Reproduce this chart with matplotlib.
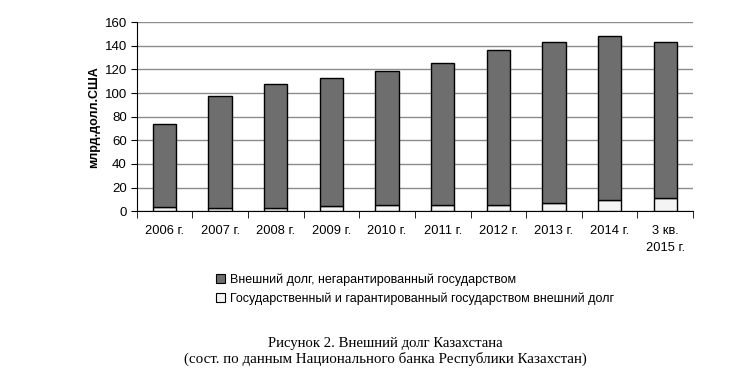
import matplotlib
matplotlib.use("Agg")
import matplotlib.pyplot as plt
import matplotlib.patches as patches

plt.rcParams['font.family'] = ['Liberation Sans', 'DejaVu Sans']

years = ["2006 г.", "2007 г.", "2008 г.", "2009 г.", "2010 г.",
         "2011 г.", "2012 г.", "2013 г.", "2014 г.", "3 кв.\n2015 г."]
# государственный и гарантированный государством внешний долг
gov_debt = [3.1, 2.3, 2.3, 4.2, 4.8, 5.6, 5.6, 6.5, 9.0, 10.7]
# внешний долг, негарантированный государством
nongov_debt = [71.0, 95.2, 105.3, 108.2, 113.5, 119.4, 130.4, 136.5, 139.0, 132.3]

label_nongov = "Внешний долг, негарантированный государством"
label_gov = "Государственный и гарантированный государством внешний долг"

fig = plt.figure(figsize=(7.55, 3.75), dpi=100)
ax = fig.add_axes([0.181, 0.437, 0.737, 0.504])

x = list(range(len(years)))
ax.bar(x, gov_debt, width=0.42, color='#f4f4f4', edgecolor='black', linewidth=1, zorder=3)
ax.bar(x, nongov_debt, width=0.42, bottom=gov_debt, color='#6e6e6e',
       edgecolor='black', linewidth=1, zorder=3)

ax.set_xlim(-0.5, len(years) - 0.5)
ax.set_ylim(0, 160)
ax.set_yticks(range(0, 161, 20))
ax.yaxis.grid(True, color='#8c8c8c', linewidth=1)
ax.set_axisbelow(True)

ax.set_xticks(x)
ax.set_xticklabels(years, fontsize=9.3, linespacing=1.5)
ax.tick_params(axis='x', length=0, pad=10)
# tick marks between categories
ax.set_xticks([i - 0.5 for i in range(len(years) + 1)], minor=True)
ax.tick_params(axis='x', which='minor', length=5, direction='out', color='black')
ax.tick_params(axis='y', labelsize=9.5, length=4, direction='out', pad=3)

for s in ['top', 'right']:
    ax.spines[s].set_visible(False)
ax.spines['left'].set_color('black')
ax.spines['bottom'].set_color('black')

ax.set_ylabel("млрд.долл.США", fontsize=9, fontweight='bold', labelpad=3)

handles = [patches.Patch(facecolor='#6e6e6e', edgecolor='black', linewidth=0.8),
           patches.Patch(facecolor='#f4f4f4', edgecolor='black', linewidth=0.8)]
fig.legend(handles, [label_nongov, label_gov], loc='upper left',
           bbox_to_anchor=(0.28, 0.285), frameon=False, fontsize=9,
           handlelength=0.7, handleheight=0.7, handletextpad=0.4, labelspacing=0.55,
           borderaxespad=0)

fig.text(0.51, 0.075, "Рисунок 2. Внешний долг Казахстана", ha='center',
         fontsize=10.6, family=['Liberation Serif', 'DejaVu Serif'])
fig.text(0.51, 0.033, "(сост. по данным Национального банка Республики Казахстан)",
         ha='center', fontsize=10.8, family=['Liberation Serif', 'DejaVu Serif'])

fig.savefig("out.png", dpi=100)
